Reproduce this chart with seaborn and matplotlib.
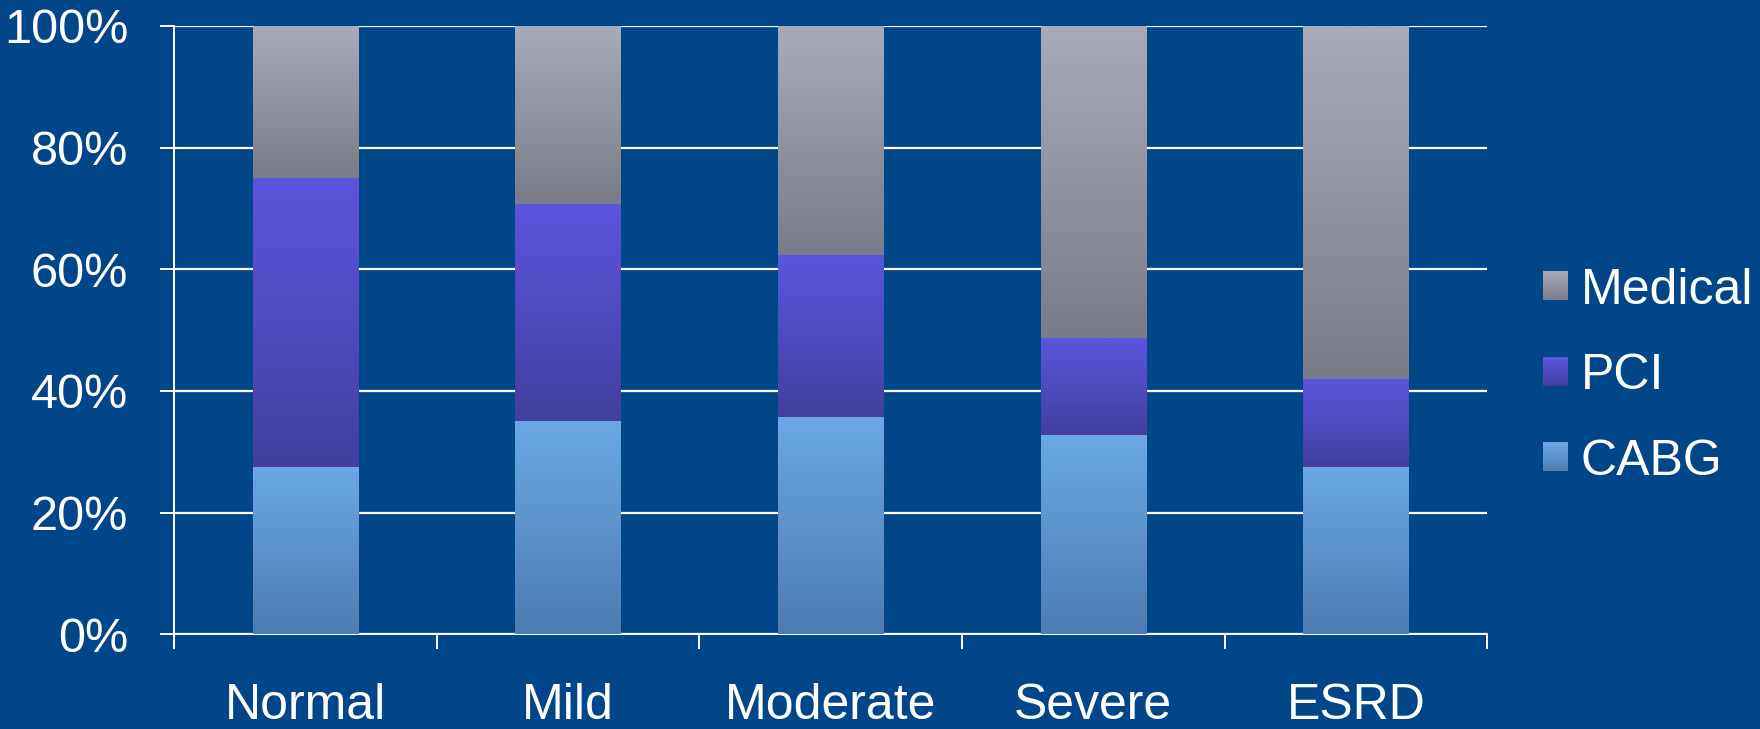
import numpy as np
import pandas as pd
import matplotlib
matplotlib.use("Agg")
import matplotlib.pyplot as plt
import seaborn as sns
from matplotlib.colors import LinearSegmentedColormap
from matplotlib.patches import Rectangle
from matplotlib.legend_handler import HandlerBase

# Treatment share (%) by kidney function category
categories = ["Normal", "Mild", "Moderate", "Severe", "ESRD"]
cabg = [27.5, 35.0, 35.7, 32.7, 27.5]
pci = [47.5, 35.8, 26.7, 16.0, 14.5]
medical = [25.0, 29.2, 37.6, 51.3, 58.0]
stack_order = ["CABG", "PCI", "Medical"]
legend_order = ["Medical", "PCI", "CABG"]
yticks = [0, 20, 40, 60, 80, 100]
ytick_labels = ["0%", "20%", "40%", "60%", "80%", "100%"]

BG = "#004688"
# (top colour, bottom colour) of each segment's vertical gradient
GRAD = {
    "Medical": ("#a9abbb", "#797b88"),
    "PCI": ("#5b56dc", "#433f9f"),
    "CABG": ("#6ba7e7", "#4d7cb2"),
}

sns.set_theme(style="white")
plt.rcParams["font.family"] = ["Liberation Sans", "DejaVu Sans"]

fig = plt.figure(figsize=(17.6, 7.29), dpi=100, facecolor=BG)
ax = fig.add_axes([0.0989, 0.1298, 0.7461, 0.8347])
ax.set_facecolor(BG)

df = pd.DataFrame({"category": categories, "CABG": cabg, "PCI": pci, "Medical": medical})


def gradient_fill(ax, patch, top_col, bot_col):
    x0, y0 = patch.get_x(), patch.get_y()
    w, h = patch.get_width(), patch.get_height()
    cmap = LinearSegmentedColormap.from_list("seg", [bot_col, top_col])
    arr = np.linspace(0, 1, 256).reshape(-1, 1)
    im = ax.imshow(arr, cmap=cmap, origin="lower", aspect="auto",
                   extent=(x0, x0 + w, y0, y0 + h),
                   interpolation="bilinear", zorder=3)
    im.set_clip_path(patch)
    patch.set_facecolor("none")
    patch.set_edgecolor("none")


bottom = np.zeros(len(categories))
for name in stack_order:
    vals = df[name].to_numpy(dtype=float)
    n_before = len(ax.patches)
    sns.barplot(data=df, x="category", y=name, order=categories, width=0.4,
                color=GRAD[name][0], ax=ax, zorder=3, errorbar=None)
    for p, b in zip(ax.patches[n_before:], bottom):
        p.set_y(b)
        gradient_fill(ax, p, *GRAD[name])
    bottom = bottom + vals

ax.set_xlim(-0.5, len(categories) - 0.5)
ax.set_ylim(0, 100)
ax.set_xlabel("")
ax.set_ylabel("")

# y axis
ax.set_yticks(yticks)
ax.set_yticklabels(ytick_labels)
ax.yaxis.grid(True, color="white", linewidth=1.6)
ax.set_axisbelow(True)
ax.tick_params(axis="y", which="major", length=10, width=1.4, color="white",
               pad=23, labelsize=35, labelcolor="white", left=True)

# x axis: labels at centres, tick marks at category boundaries
ax.set_xticks(range(len(categories)))
ax.set_xticklabels(categories)
ax.set_xticks(np.arange(-0.5, len(categories), 1.0), minor=True)
ax.tick_params(axis="x", which="major", length=0, pad=35, labelsize=36,
               labelcolor="white")
ax.tick_params(axis="x", which="minor", length=11, width=1.4, color="white",
               bottom=True, direction="out")

for side in ("top", "right"):
    ax.spines[side].set_visible(False)
for side in ("left", "bottom"):
    ax.spines[side].set_color("white")
    ax.spines[side].set_linewidth(1.4)


class GradientSquare(HandlerBase):
    def create_artists(self, legend, orig_handle, xdescent, ydescent,
                       width, height, fontsize, trans):
        top_col, bot_col = orig_handle.gradient
        n = 12
        arts = []
        for i in range(n):
            t = (i + 0.5) / n
            c = np.array(matplotlib.colors.to_rgb(bot_col)) * (1 - t) + \
                np.array(matplotlib.colors.to_rgb(top_col)) * t
            r = Rectangle((-xdescent, -ydescent + height * i / n), width,
                          height / n + 0.3, facecolor=c, edgecolor="none",
                          transform=trans)
            arts.append(r)
        return arts


handles = []
for name in legend_order:
    h = Rectangle((0, 0), 1, 1)
    h.gradient = GRAD[name]
    handles.append(h)

fig.legend(handles, legend_order, loc="center left",
           bbox_to_anchor=(0.8767, 0.484), frameon=False, fontsize=36,
           labelcolor="white", handlelength=0.5, handleheight=0.5,
           handletextpad=0.26, labelspacing=0.79, borderpad=0, borderaxespad=0,
           handler_map={Rectangle: GradientSquare()})

fig.savefig("out.png", dpi=100, facecolor=BG)
